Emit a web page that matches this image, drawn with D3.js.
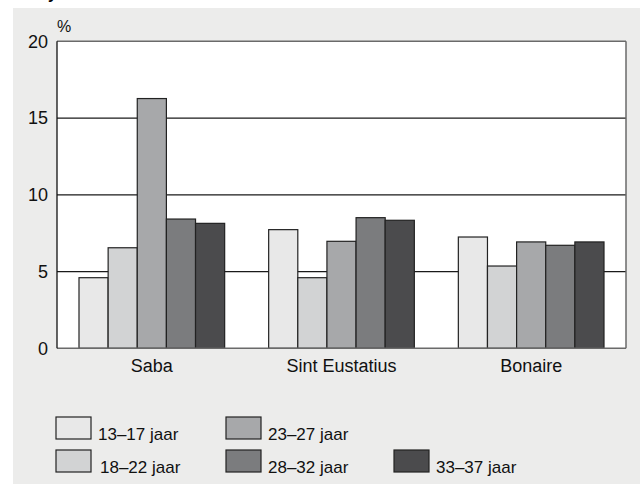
<!DOCTYPE html>
<html><head><meta charset="utf-8">
<script src="https://cdn.jsdelivr.net/npm/d3@7"></script>
<style>body{margin:0;background:#fff}svg{display:block}text{font-family:"Liberation Sans",Arial,sans-serif}</style>
</head><body>
<svg id="c" width="640" height="484"></svg>
<script>
const categories = ["Saba", "Sint Eustatius", "Bonaire"];
const series = ["13–17 jaar", "18–22 jaar", "23–27 jaar", "28–32 jaar", "33–37 jaar"];
const v1317 = [4.6, 7.73, 7.25];
const v1822 = [6.55, 4.6, 5.36];
const v2327 = [16.27, 6.97, 6.93];
const v2832 = [8.42, 8.51, 6.71];
const v3337 = [8.14, 8.34, 6.93];
const yTicks = [0, 5, 10, 15, 20];
const colors = ["#e8e8e8", "#d2d3d4", "#a7a8aa", "#7b7c7e", "#4b4b4d"];
const values = [v1317, v1822, v2327, v2832, v3337];

const svg = d3.select("#c");
svg.append("rect").attr("x", 13).attr("y", 8).attr("width", 627).attr("height", 476).attr("fill", "#ececeb");
svg.append("text").attr("x", 48).attr("y", -1).attr("font-weight", "bold").attr("font-size", 16).text("y");

const L = 57, R = 626, T = 41.3, B = 348.3;
const x = d3.scaleBand().domain(categories).range([L, R]).paddingInner(0.232).paddingOuter(0.116);
const xs = d3.scaleBand().domain(series).range([0, x.bandwidth()]);
const y = d3.scaleLinear().domain([0, 20]).range([B, T]);

svg.append("rect").attr("x", L).attr("y", T).attr("width", R - L).attr("height", B - T).attr("fill", "#fff");

// gridlines
svg.append("g").selectAll("line").data(yTicks.filter(d => d > 0 && d < 20)).join("line")
  .attr("x1", L).attr("x2", R).attr("y1", d => y(d)).attr("y2", d => y(d))
  .attr("stroke", "#1a1a1a").attr("stroke-width", 1.2);

// bars
const g = svg.append("g");
categories.forEach((c, ci) => {
  series.forEach((s, si) => {
    g.append("rect")
      .attr("x", x(c) + xs(s)).attr("y", y(values[si][ci]))
      .attr("width", xs.bandwidth()).attr("height", y(0) - y(values[si][ci]))
      .attr("fill", colors[si]).attr("stroke", "#222").attr("stroke-width", 1.2);
  });
});

// frame
svg.append("line").attr("x1", L).attr("x2", R).attr("y1", T).attr("y2", T).attr("stroke", "#6a6a6a").attr("stroke-width", 1.5);
svg.append("line").attr("x1", R).attr("x2", R).attr("y1", T).attr("y2", B).attr("stroke", "#6a6a6a").attr("stroke-width", 1.5);
svg.append("line").attr("x1", L).attr("x2", R).attr("y1", B).attr("y2", B).attr("stroke", "#6a6a6a").attr("stroke-width", 1.5);
svg.append("line").attr("x1", L).attr("x2", L).attr("y1", T).attr("y2", B).attr("stroke", "#111").attr("stroke-width", 1.3);

// y axis labels
const ya = svg.append("g").attr("transform", `translate(${L},0)`)
  .call(d3.axisLeft(y).tickValues(yTicks).tickSize(0).tickPadding(9).tickFormat(d3.format("d")));
ya.select(".domain").remove();
ya.selectAll("text").attr("font-size", 18).attr("fill", "#111").attr("font-family", "Liberation Sans, Arial, sans-serif");
svg.append("text").attr("x", 57).attr("y", 32).attr("font-size", 16).attr("fill", "#111").text("%");

// x axis labels
const xa = svg.append("g").attr("transform", `translate(0,${B})`)
  .call(d3.axisBottom(x).tickSize(0));
xa.select(".domain").remove();
xa.selectAll("text").attr("y", 23.5).attr("dy", 0).attr("font-size", 18).attr("fill", "#111").attr("font-family", "Liberation Sans, Arial, sans-serif");

// legend
const legendPos = [[56, 417], [56, 450], [226, 417], [226, 450], [394, 450]];
const lg = svg.append("g");
series.forEach((s, i) => {
  const [lx, ly] = legendPos[i];
  lg.append("rect").attr("x", lx).attr("y", ly).attr("width", 35).attr("height", 22)
    .attr("fill", colors[i]).attr("stroke", "#222").attr("stroke-width", 1.2);
  lg.append("text").attr("x", lx + (i === 1 ? 44 : 42)).attr("y", ly + 23).attr("font-size", 17).attr("fill", "#111").text(s);
});
</script>
</body></html>
